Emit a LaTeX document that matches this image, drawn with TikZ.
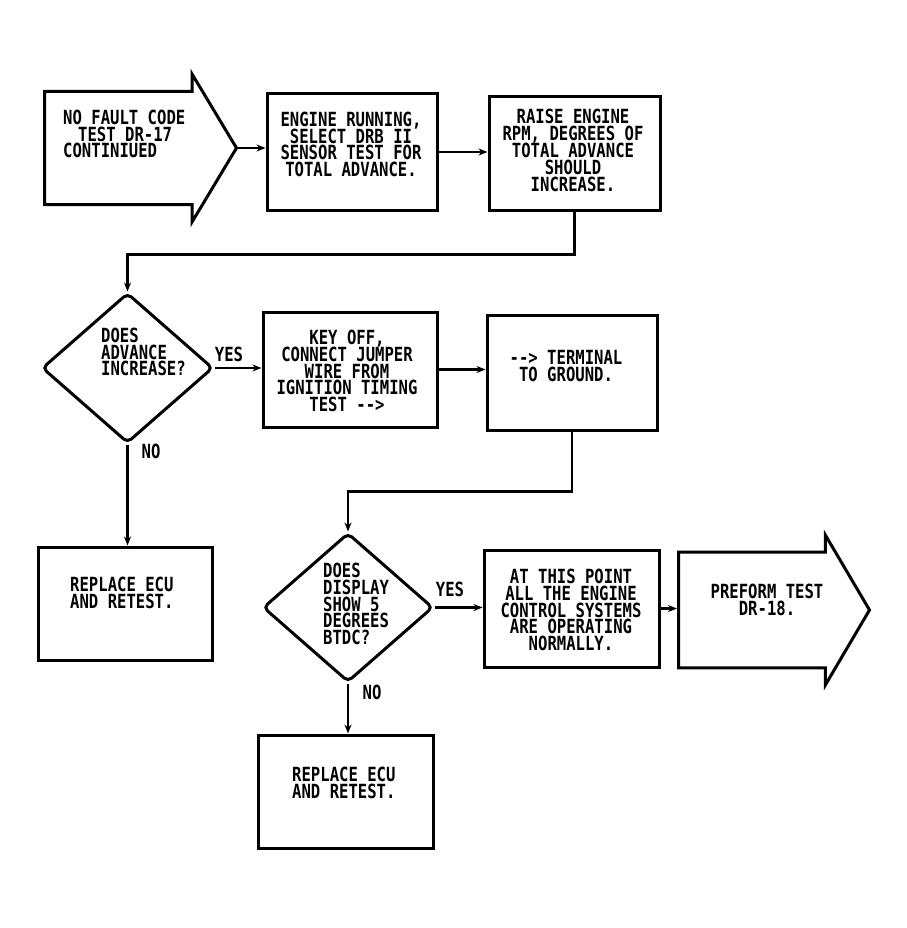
\documentclass[tikz,border=0pt]{standalone}
\usepackage{fontspec}
\usetikzlibrary{shapes.geometric,shapes.arrows,arrows.meta}
\newfontfamily\plotmono[FakeStretch=0.8]{DejaVu Sans Mono}
\newcommand\plotfont{\plotmono\bfseries\fontsize{19.5}{16.8}\selectfont\lineskiplimit=-50pt\lineskip=0pt}
\tikzset{
  box/.style={draw, line width=3pt, rectangle, inner sep=0pt},
  dia/.style={draw, line width=3pt, diamond, inner sep=0pt, rounded corners=5pt},
  bigarrow/.style={draw, line width=3pt, single arrow, inner xsep=0pt, inner ysep=54pt,
    single arrow head extend=17pt, single arrow tip angle=118},
  txt/.style={font=\plotfont, inner sep=0pt},
  flow/.style={line width=2.8pt, -{Stealth[length=9pt,width=7pt]}},
}
\begin{document}
\begin{tikzpicture}[x=1pt,y=-1pt]
\useasboundingbox (0,0) rectangle (906,928);
% shapes
\node[bigarrow, minimum height=192pt, minimum width=148pt, anchor=tail] (a1) at (43,148) {};
\node[box, minimum width=170pt, minimum height=116pt] (b2) at (352,152) {};
\node[box, minimum width=171pt, minimum height=113pt] (b3) at (574.5,153.5) {};
\node[dia, minimum width=171pt, minimum height=150pt] (d1) at (127.5,368) {};
\node[box, minimum width=174pt, minimum height=115pt] (b4) at (350,369.5) {};
\node[box, minimum width=170pt, minimum height=115pt] (b5) at (572,372.5) {};
\node[box, minimum width=174pt, minimum height=113pt] (b7) at (125,603.5) {};
\node[dia, minimum width=170pt, minimum height=149pt] (d2) at (348,607.5) {};
\node[box, minimum width=175pt, minimum height=117pt] (b6) at (571.5,608.5) {};
\node[bigarrow, minimum height=191pt, minimum width=150pt, anchor=tail, inner ysep=56pt,
  single arrow head extend=17pt, single arrow tip angle=119] (a2) at (677,610) {};
\node[box, minimum width=175pt, minimum height=113pt] (b8) at (345.5,791.5) {};
% texts
\node[txt, align=left, anchor=west] (t1) at (63,134) {NO FAULT CODE\\\hspace*{15pt}TEST DR-17\\CONTINIUED};
\node[txt, align=center] (t2) at (351,144.5) {ENGINE RUNNING,\\SELECT DRB II\\SENSOR TEST FOR\\TOTAL ADVANCE.};
\node[txt, align=center] (t3) at (573,150.5) {RAISE ENGINE\\RPM, DEGREES OF\\TOTAL ADVANCE\\SHOULD\\INCREASE.};
\node[txt, align=left, anchor=west] (t4) at (101,352) {DOES\\ADVANCE\\INCREASE?};
\node[txt, align=center] (t5) at (347,371) {KEY OFF,\\CONNECT JUMPER\\WIRE FROM\\IGNITION TIMING\\TEST -\kern0pt->};
\node[txt, align=center] (t6) at (566,366) {-\kern0pt-> TERMINAL\\TO GROUND.};
\node[txt, align=left, anchor=west] (t7) at (70,593) {REPLACE ECU\\AND RETEST.};
\node[txt, align=left, anchor=west] (t8) at (323,604) {DOES\\DISPLAY\\SHOW 5\\DEGREES\\BTDC?};
\node[txt, align=center] (t9) at (571,610) {AT THIS POINT\\ALL THE ENGINE\\CONTROL SYSTEMS\\ARE OPERATING\\NORMALLY.};
\node[txt, align=center] (t10) at (767,600) {PREFORM TEST\\DR-18.};
\node[txt, align=left, anchor=west] (t11) at (292,783) {REPLACE ECU\\AND RETEST.};
\node[txt] (yes1) at (229,354) {YES};
\node[txt] (no1) at (151,451) {NO};
\node[txt] (yes2) at (450,589) {YES};
\node[txt] (no2) at (372,692) {NO};
% connectors
\draw[flow] (a1.tip) -- (a1.tip -| b2.west);
\draw[flow] (b2.east) -- (b2.east -| b3.west);
\draw[flow] (b3.south) -- ++(0,43) -| (d1.north);
\draw[flow] (d1.east) -- (d1.east -| b4.west);
\draw[flow] (b4.east) -- (b4.east -| b5.west);
\draw[flow] (b5.south) -- ++(0,60) -| (d2.north);
\draw[flow] (d2.east) -- (d2.east -| b6.west);
\draw[flow] (b6.east) -- (b6.east -| a2.tail);
\draw[flow] (d1.south) -- (d1.south |- b7.north);
\draw[flow] (d2.south) -- (d2.south |- b8.north);
\end{tikzpicture}
\end{document}
